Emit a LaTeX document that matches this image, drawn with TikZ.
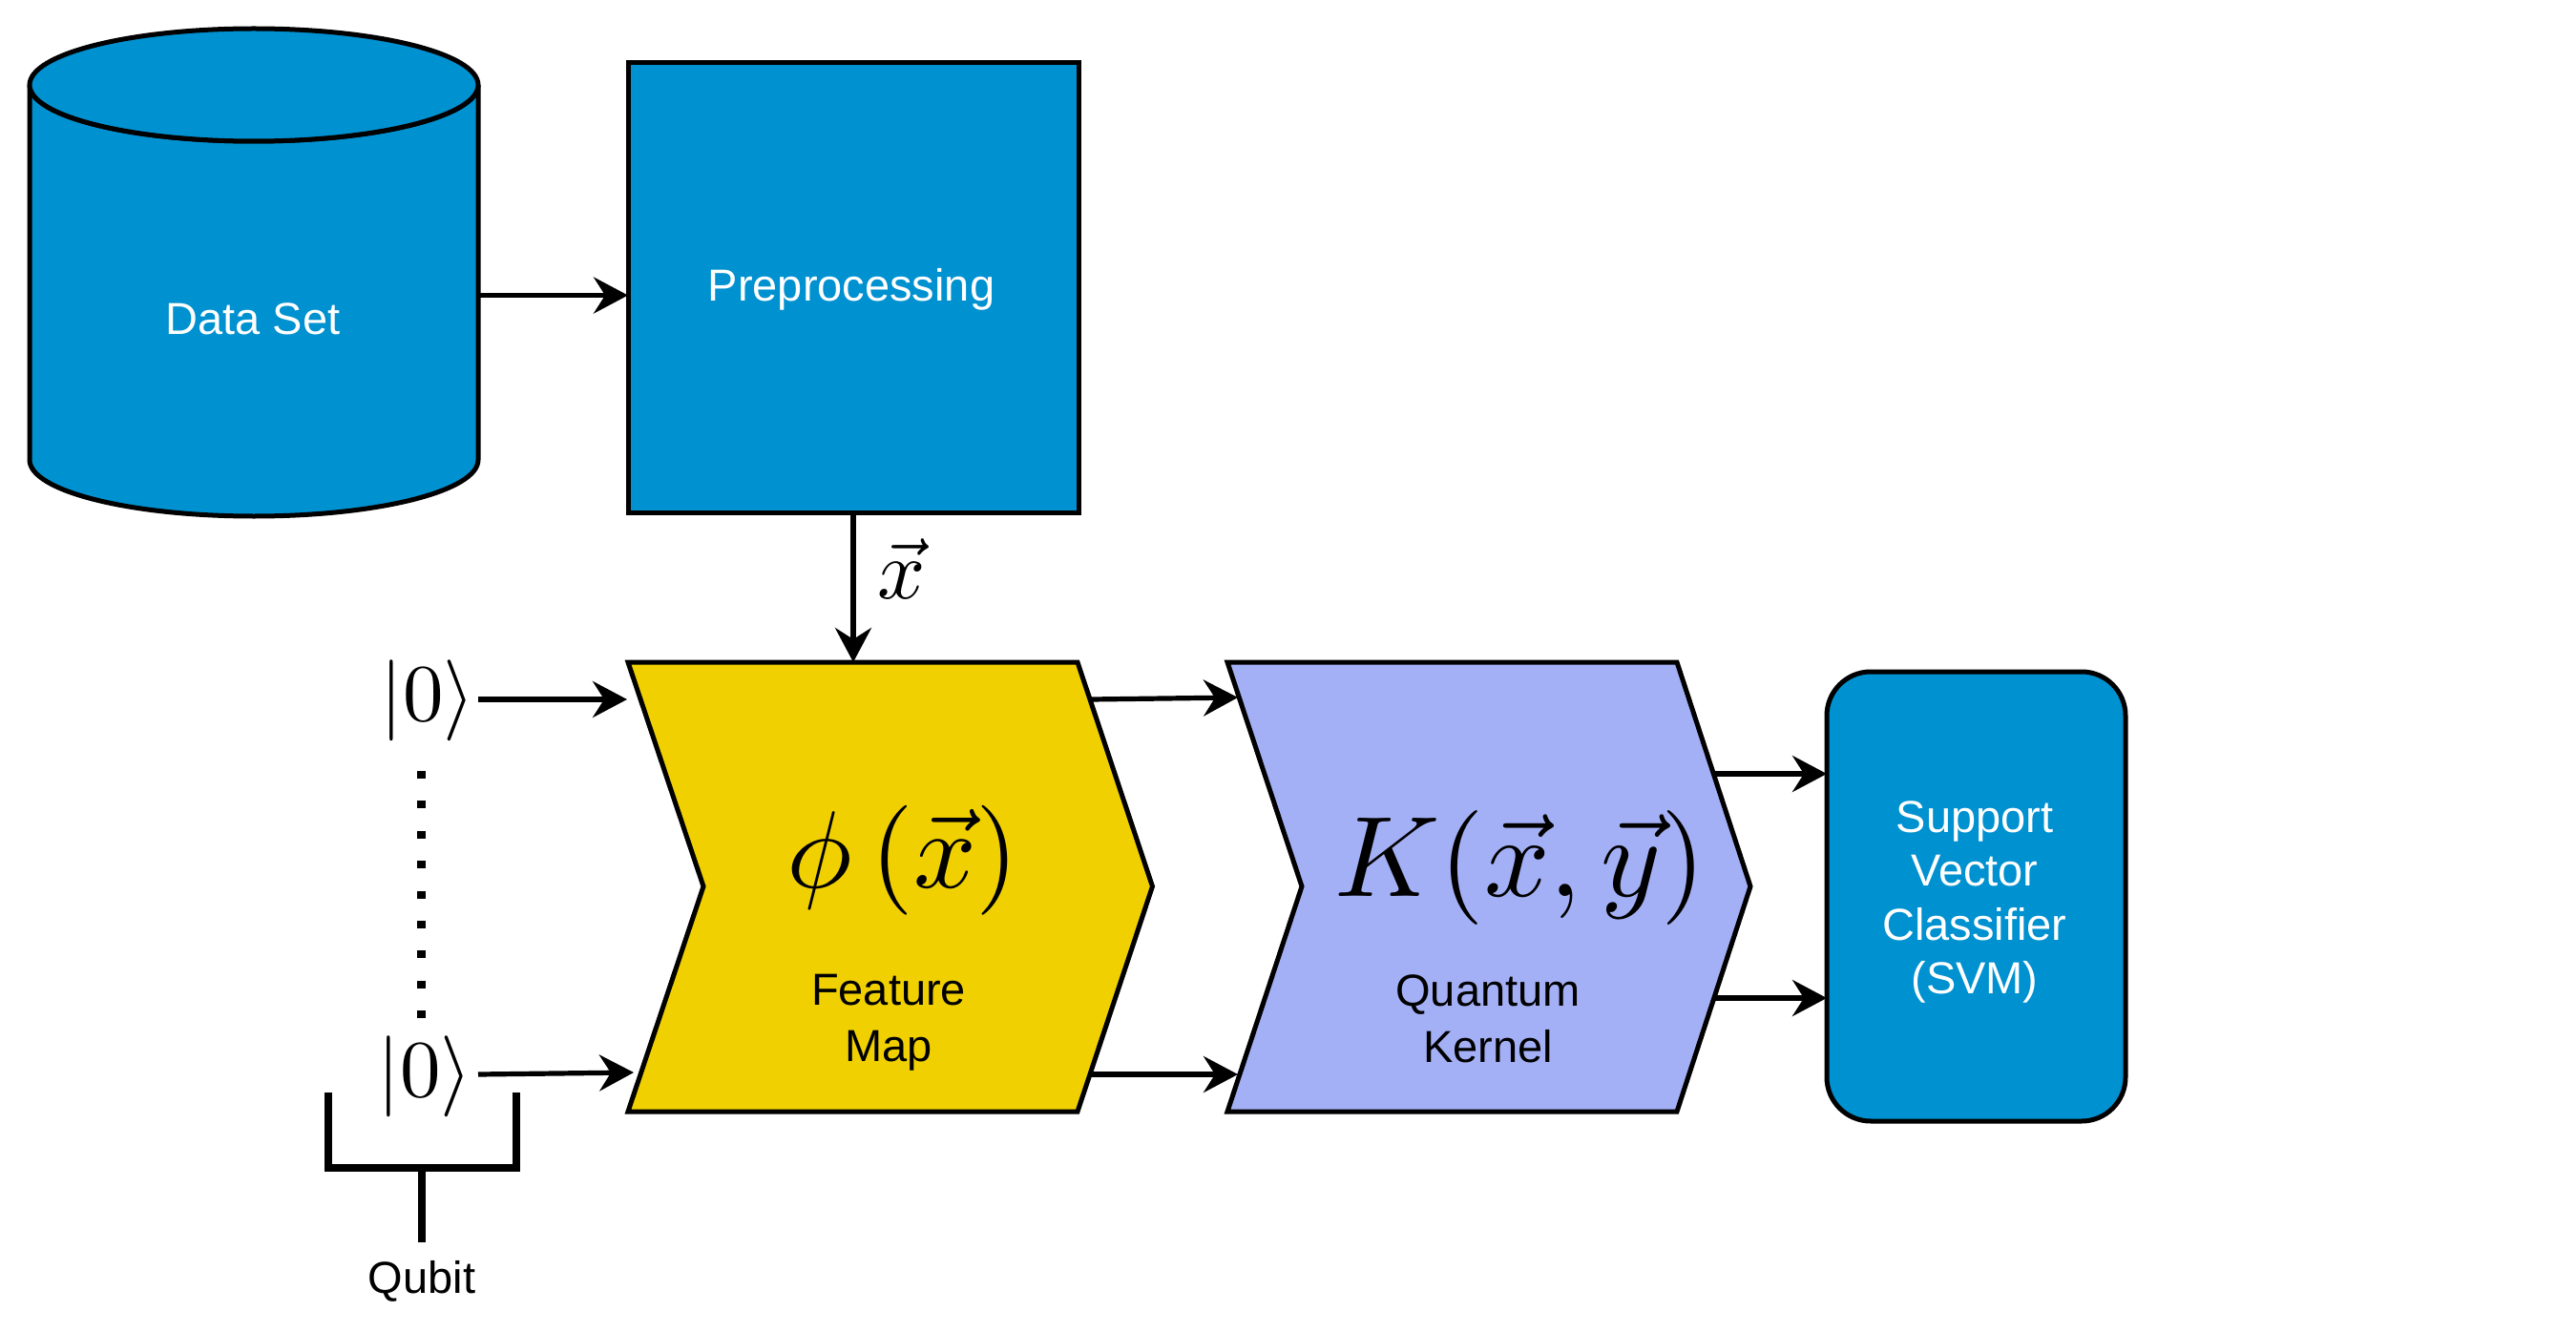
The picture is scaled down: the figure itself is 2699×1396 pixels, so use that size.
\documentclass[tikz,border=0pt]{standalone}
\usepackage[no-math]{fontspec}
\setmainfont{Liberation Sans}
\usetikzlibrary{arrows.meta}
\definecolor{panelblue}{RGB}{0,145,208}
\definecolor{featyellow}{RGB}{240,208,0}
\definecolor{kernelblue}{RGB}{164,176,245}
\tikzset{
  x=0.5pt,y=-0.5pt,
  outline/.style={draw=black,line width=2.5pt,line join=miter},
  bluebox/.style={outline,fill=panelblue,outer sep=0pt,inner sep=0pt},
  conn/.style={line width=2.6pt,-{Stealth[length=18pt,width=19pt,inset=6pt]}},
  lbl/.style={font=\fontsize{23.5}{28.2}\selectfont,align=center,inner sep=0pt,outer sep=0pt},
  whitelbl/.style={lbl,text=white},
  mathlbl/.style={inner sep=0pt,outer sep=0pt},
  bracket/.style={line width=4pt,line join=miter},
}
\begin{document}
\begin{tikzpicture}
\useasboundingbox (0,0) rectangle (2699,1396);
% data set cylinder
\path[outline,fill=panelblue]
  (31,89) arc[start angle=180,end angle=360,x radius=235,y radius=-59]
  -- (501,482) arc[start angle=0,end angle=-180,x radius=235,y radius=-59] -- cycle;
\path[outline,fill=panelblue]
  (266,89) ellipse[x radius=235,y radius=59];
\node[whitelbl,anchor=base] (ds) at (265,350.5) {Data Set};
\coordinate (dsOut) at (501,309.5);
% preprocessing
\node[bluebox,minimum width=236pt,minimum height=235.5pt] (pre) at (894,301.5) {};
\node[whitelbl,anchor=base] (prelbl) at (892,315) {Preprocessing};
% feature map
\path[outline,fill=featyellow]
  (658,694) -- (1129,694) -- (1207.5,929) -- (1129,1165) -- (658,1165) -- (737,929) -- cycle;
\coordinate (fmTop) at (894,694);
\node[mathlbl] (phi) at (946,902) {\scalebox{5.75}{$\phi\left(\vec{x}\right)$}};
\node[lbl] (fmlbl) at (931,1071.5) {Feature\\[1.2pt]Map};
% quantum kernel
\path[outline,fill=kernelblue]
  (1286,694) -- (1757,694) -- (1834,929) -- (1757,1165) -- (1286,1165) -- (1364,929) -- cycle;
\node[mathlbl] (kern) at (1592.5,909) {\scalebox{6}{$K(\vec{x},\vec{y})$}};
\node[lbl] (qklbl) at (1559,1068) {Quantum\\[1.2pt]Kernel};
% svm
\node[bluebox,rounded corners=23pt,minimum width=156.5pt,minimum height=235.5pt] (svm) at (2070.5,939.5) {};
\node[whitelbl] (svmlbl) at (2069,945.5) {Support\\Vector\\Classifier\\(SVM)};
% kets
\node[mathlbl] (ket1) at (448,734) {\scalebox{4.25}{$\left|0\right\rangle$}};
\node[mathlbl] (ket2) at (445,1128) {\scalebox{4.25}{$\left|0\right\rangle$}};
\coordinate (dotA) at (441.6,808);
\coordinate (dotB) at (441.6,1067);
\draw[line width=4.2pt,dash pattern=on 4pt off 11.7pt] (dotA) -- (dotB);
% bracket
\coordinate (brL) at (344,1145);
\coordinate (brR) at (541,1145);
\coordinate (brLb) at (344,1224);
\coordinate (brRb) at (541,1224);
\coordinate (brM) at (442,1224);
\coordinate (brS) at (442,1302);
\draw[bracket] (brL) -- (brLb) -- (brRb) -- (brR);
\draw[bracket] (brM) -- (brS);
\node[lbl,anchor=base] (qubit) at (442,1355) {Qubit};
% vec x label
\node[mathlbl] (xlbl) at (945,596) {\scalebox{4.4}{$\vec{x}$}};
% connectors
\coordinate (k1o) at (501,733);   \coordinate (fm1) at (657,733);
\coordinate (k2o) at (501,1126);  \coordinate (fm2) at (664,1124);
\coordinate (fmo1) at (1143,733); \coordinate (qk1) at (1297,731);
\coordinate (fmo2) at (1143,1126);\coordinate (qk2) at (1297,1126);
\coordinate (qko1) at (1796,811); \coordinate (qko2) at (1796,1046);
\draw[conn] (dsOut) -- (pre.west |- dsOut);
\draw[conn] (pre.south) -- (fmTop);
\draw[conn] (k1o) -- (fm1);
\draw[conn] (k2o) -- (fm2);
\draw[conn] (fmo1) -- (qk1);
\draw[conn] (fmo2) -- (qk2);
\draw[conn] (qko1) -- (svm.west |- qko1);
\draw[conn] (qko2) -- (svm.west |- qko2);
\end{tikzpicture}
\end{document}
